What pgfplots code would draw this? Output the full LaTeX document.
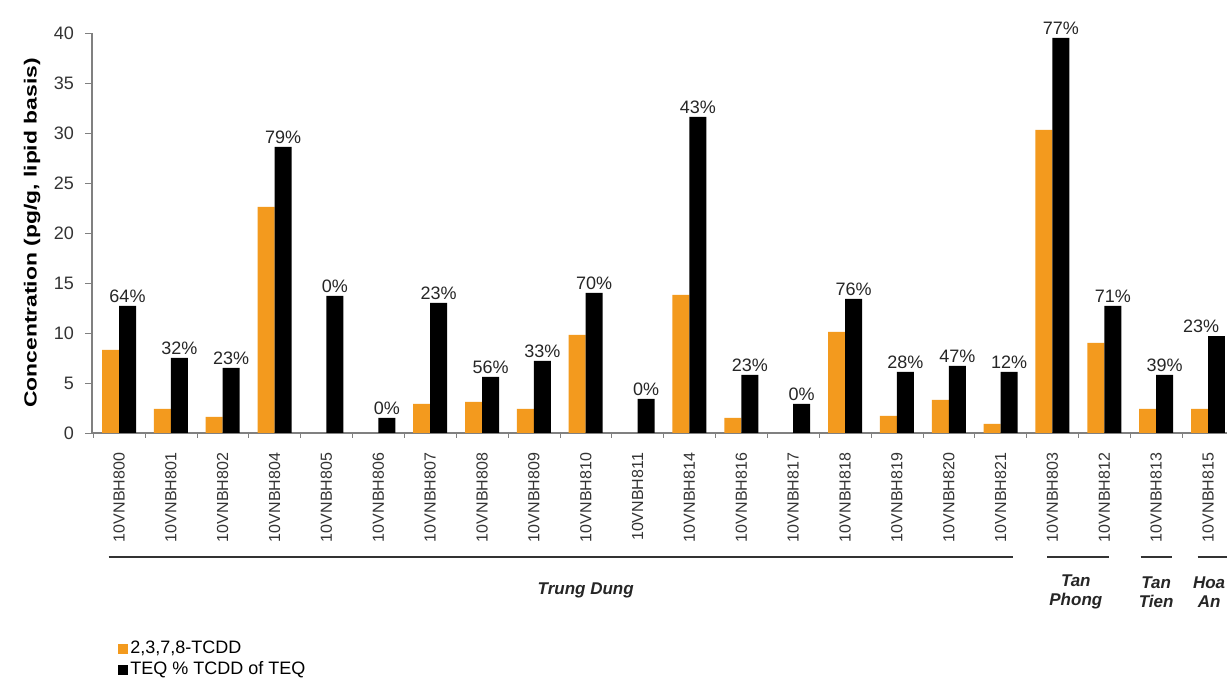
\documentclass[border=0pt]{standalone}
\usepackage{fontspec}
\setmainfont{Liberation Sans}
\usepackage{pgfplots}
\pgfplotsset{compat=1.18}
\definecolor{tcdd}{RGB}{243,154,30}
\definecolor{axgray}{RGB}{128,128,128}
\begin{document}
\begin{tikzpicture}
\fill[white] (0,0) rectangle (613.5pt,339pt);
\useasboundingbox (0,0) rectangle (613.5pt,339pt);
\clip (0,0) rectangle (613.5pt,339pt);
\begin{axis}[
  at={(59.5pt,122.5pt)}, anchor=origin,
  x=25.93pt, y=5pt,
  xmin=-0.52, xmax=21.5, ymin=0, ymax=40,
  axis lines*=left,
  axis line style={draw=axgray, line width=0.8pt},
  clip=false,
  ybar=0pt, bar width=8.5pt,
  ytick={0,5,...,40},
  xtick={0,...,21},
  xticklabels={10VNBH800,10VNBH801,10VNBH802,10VNBH804,10VNBH805,10VNBH806,10VNBH807,10VNBH808,10VNBH809,10VNBH810,10VNBH811,10VNBH814,10VNBH816,10VNBH817,10VNBH818,10VNBH819,10VNBH820,10VNBH821,10VNBH803,10VNBH812,10VNBH813,10VNBH815},
  minor xtick={-0.5,0.5,...,21.5},
  tick align=outside,
  major tick length=3.5pt, minor tick length=2.5pt,
  major x tick style={draw=none},
  minor x tick style={draw=axgray},
  y tick style={draw=axgray},
  /pgf/number format/assume math mode=true,
  yticklabel style={font=\fontsize{9}{10}\selectfont, text=black!80},
  yticklabel shift=2pt,
  xticklabel style={font=\fontsize{8}{9}\selectfont, rotate=90, anchor=east, text=black!80},
  xticklabel shift=3pt,
  every axis y label/.style={at={(axis description cs:0,0.5)}, xshift=-30pt, rotate=90, anchor=center},
  ylabel={\scalebox{1.3}[1]{Concentration (pg/g, lipid basis)}},
  ylabel style={font=\bfseries\fontsize{8.8}{10}\selectfont},
  legend style={at={(0.021,-0.51)}, anchor=north west, draw=none, fill=none,
    font=\fontsize{9}{10}\selectfont, row sep=0.5pt, inner sep=1pt,
    nodes={inner sep=1pt}},
  legend cell align=left,
  legend image code/.code={\fill[#1] (0pt,-2.5pt) rectangle (5pt,2.5pt);},
  every node near coord/.append style={font=\fontsize{9}{10}\selectfont, text=black!85, inner sep=1.5pt},
]
\addplot[fill=tcdd, draw=none, bar shift=-4.25pt] table[x=i, y=v] {
i v
0 8.3
1 2.4
2 1.6
3 22.6
6 2.9
7 3.1
8 2.4
9 9.8
11 13.8
12 1.5
14 10.1
15 1.7
16 3.3
17 0.9
18 30.3
19 9.0
20 2.4
21 2.4
};
\addlegendentry{2,3,7,8-TCDD}
\addplot[fill=black, draw=none, bar shift=4.25pt,
  point meta=explicit symbolic,
  nodes near coords={\pgfplotspointmeta\%}]
  table[x=i, y=v, meta=p] {
i v p
0 12.7 64
1 7.5 32
2 6.5 23
3 28.6 79
4 13.7 0
5 1.5 0
6 13.0 23
7 5.6 56
8 7.2 33
9 14.0 70
10 3.4 0
11 31.6 43
12 5.8 23
13 2.9 0
14 13.4 76
15 6.1 28
16 6.7 47
17 6.1 12
18 39.5 77
19 12.7 71
20 5.8 39
};
\addlegendentry{TEQ \% TCDD of TEQ}
\addplot[fill=black, draw=none, bar shift=4.25pt, forget plot,
  point meta=explicit symbolic,
  nodes near coords={\pgfplotspointmeta\%},
  every node near coord/.append style={anchor=south east, xshift=3pt}]
  table[x=i, y=v, meta=p] {
i v p
21 9.7 23
};
\draw[line width=1pt, black!80] (axis cs:-0.2,-12.4) -- (axis cs:17.24,-12.4);
\draw[line width=1pt, black!80] (axis cs:17.9,-12.4) -- (axis cs:19.09,-12.4);
\draw[line width=1pt, black!80] (axis cs:19.7,-12.4) -- (axis cs:20.3,-12.4);
\draw[line width=1pt, black!80] (axis cs:20.8,-12.4) -- (axis cs:21.6,-12.4);
\node[font=\bfseries\itshape\fontsize{8.5}{10}\selectfont, text=black!85] at (axis cs:9.0,-15.7) {Trung Dung};
\node[font=\bfseries\itshape\fontsize{8.5}{9.5}\selectfont, text=black!85, align=center] at (axis cs:18.45,-15.9) {Tan\\Phong};
\node[font=\bfseries\itshape\fontsize{8.5}{9.5}\selectfont, text=black!85, align=center] at (axis cs:20.0,-15.9) {Tan\\Tien};
\node[font=\bfseries\itshape\fontsize{8.5}{9.5}\selectfont, text=black!85, align=center] at (axis cs:21.02,-15.9) {Hoa\\An};
\end{axis}
\end{tikzpicture}
\end{document}
